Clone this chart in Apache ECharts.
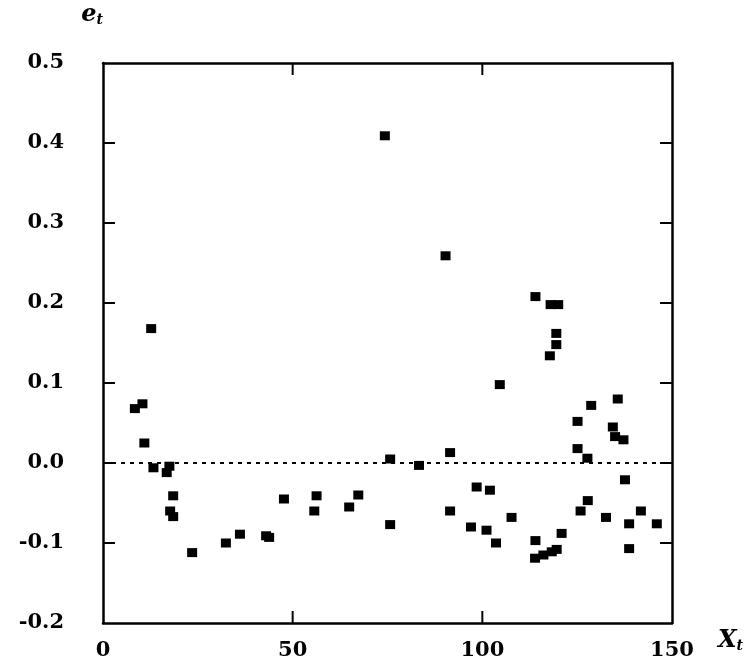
<!DOCTYPE HTML>
<html>
<head>
<meta charset="utf-8">
<title>residuals</title>
<script src="https://cdn.jsdelivr.net/npm/echarts@6/dist/echarts.min.js"></script>
<style type="text/css">
  html, body { margin: 0; padding: 0; background: #fff; }
  #content { width: 749px; height: 668px; }
</style>
</head>
<body>
<div id="content"></div>
<script type="text/javascript">
  // X_t values of each point
  var xs = [8.4, 10.4, 10.9, 12.7, 13.3, 16.8, 17.5, 18.5, 17.7, 18.5,
    23.5, 32.4, 36.1, 43.0, 43.8, 47.7, 55.7, 56.3, 64.9, 67.3,
    74.3, 75.7, 75.7, 83.3, 90.3, 91.5, 91.5, 97.0, 98.5, 101.1,
    102.0, 103.6, 104.6, 107.7, 114.0, 114.0, 113.9, 116.1, 117.8, 118.0,
    120.0, 118.3, 119.5, 119.5, 119.6, 120.9, 125.1, 125.1, 125.9, 127.7,
    127.8, 128.7, 132.6, 134.4, 135.0, 135.7, 137.2, 137.6, 138.7, 138.7,
    141.8, 146.0];
  // residuals e_t
  var es = [0.068, 0.074, 0.025, 0.168, -0.006, -0.012, -0.004, -0.041, -0.060, -0.067,
    -0.112, -0.100, -0.089, -0.091, -0.093, -0.045, -0.060, -0.041, -0.055, -0.040,
    0.409, 0.005, -0.077, -0.003, 0.259, 0.013, -0.060, -0.080, -0.030, -0.084,
    -0.034, -0.100, 0.098, -0.068, 0.208, -0.097, -0.119, -0.115, 0.134, 0.198,
    0.198, -0.111, 0.162, 0.148, -0.108, -0.088, 0.052, 0.018, -0.060, 0.006,
    -0.047, 0.072, -0.068, 0.045, 0.033, 0.080, 0.029, -0.021, -0.076, -0.107,
    -0.060, -0.076];

  var xTicks = [0, 50, 100, 150];
  var yTicks = [-0.2, -0.1, 0.0, 0.1, 0.2, 0.3, 0.4, 0.5];

  var points = [];
  for (var i = 0; i < xs.length; i++) {
    points.push([xs[i], es[i]]);
  }

  var xMin = xTicks[0], xMax = xTicks[xTicks.length - 1];
  var yMin = yTicks[0], yMax = yTicks[yTicks.length - 1];
  var font = 'DejaVu Serif';

  function frameAxis(pos, isX, withLabel) {
    var ax = {
      type: 'value', position: pos,
      min: isX ? xMin : yMin, max: isX ? xMax : yMax, interval: isX ? 50 : 0.1,
      axisLine: { show: true, onZero: false, lineStyle: { color: '#000', width: 2.5 } },
      axisTick: { show: false },
      axisLabel: { show: false },
      splitLine: { show: false }
    };
    if (withLabel) {
      ax.axisLabel = {
        color: '#000', fontFamily: font, fontWeight: 'bold', fontSize: 21,
        margin: isX ? 17 : 39,
        formatter: function (v) { return isX ? String(v) : v.toFixed(1); }
      };
    }
    return ax;
  }

  var xBottom = frameAxis('bottom', true, true);
  xBottom.name = '{x|X}{s|t}';
  xBottom.nameLocation = 'end';
  xBottom.nameGap = 46;
  xBottom.nameTextStyle = {
    padding: [36, 0, 0, 0],
    rich: {
      x: { fontFamily: font, fontStyle: 'italic', fontWeight: 'bold', fontSize: 24, color: '#000' },
      s: { fontFamily: font, fontStyle: 'italic', fontWeight: 'bold', fontSize: 14, color: '#000', padding: [10, 0, 0, 0] }
    }
  };

  var yLeft = frameAxis('left', false, true);
  yLeft.name = '{e|e}{s|t}';
  yLeft.nameLocation = 'end';
  yLeft.nameGap = 32;
  yLeft.nameTextStyle = {
    align: 'right',
    padding: [0, 0, 4, 0],
    rich: {
      e: { fontFamily: font, fontStyle: 'italic', fontWeight: 'bold', fontSize: 24, color: '#000' },
      s: { fontFamily: font, fontStyle: 'italic', fontWeight: 'bold', fontSize: 14, color: '#000', padding: [10, 0, 0, 0] }
    }
  };

  var myChart = echarts.init(document.getElementById('content'));
  myChart.setOption({
    backgroundColor: '#fff',
    animation: false,
    grid: { left: 103, right: 77, top: 63, bottom: 45 },
    xAxis: [xBottom, frameAxis('top', true, false)],
    yAxis: [yLeft, frameAxis('right', false, false)],
    series: [
      {
        type: 'scatter',
        data: points,
        symbol: 'rect',
        symbolSize: [10, 9],
        itemStyle: { color: '#000', opacity: 1 },
        markLine: {
          silent: true,
          symbol: 'none',
          label: { show: false },
          lineStyle: { color: '#000', type: [4, 5], width: 2 },
          data: [{ yAxis: 0 }]
        }
      }
    ]
  });

  // inner tick marks on all four sides, placed through the chart's own scales
  var tickLen = 12;
  var ticks = [];
  function tick(x1, y1, x2, y2) {
    ticks.push({
      type: 'line', z: 100, silent: true,
      shape: { x1: x1, y1: y1, x2: x2, y2: y2 },
      style: { stroke: '#000', lineWidth: 2 }
    });
  }
  for (var a = 1; a < xTicks.length - 1; a++) {
    var pb = myChart.convertToPixel({ gridIndex: 0 }, [xTicks[a], yMin]);
    var pt = myChart.convertToPixel({ gridIndex: 0 }, [xTicks[a], yMax]);
    tick(pb[0], pb[1], pb[0], pb[1] - tickLen);
    tick(pt[0], pt[1], pt[0], pt[1] + tickLen);
  }
  for (var b = 1; b < yTicks.length - 1; b++) {
    var pl = myChart.convertToPixel({ gridIndex: 0 }, [xMin, yTicks[b]]);
    var pr = myChart.convertToPixel({ gridIndex: 0 }, [xMax, yTicks[b]]);
    tick(pl[0], pl[1], pl[0] + tickLen, pl[1]);
    tick(pr[0], pr[1], pr[0] - tickLen, pr[1]);
  }
  myChart.setOption({ graphic: ticks });
</script>
</body>
</html>
